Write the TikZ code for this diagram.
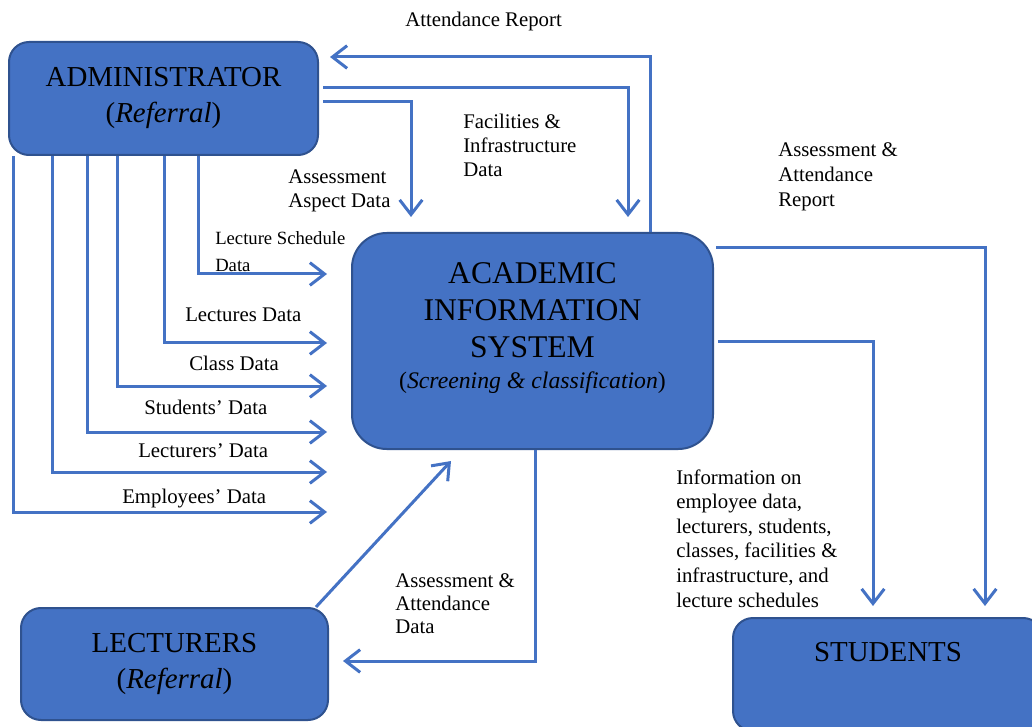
\documentclass[tikz,border=0pt]{standalone}
\usepackage{fontspec}
\setmainfont{Liberation Serif}
\usetikzlibrary{arrows.meta,calc}
\definecolor{boxfill}{HTML}{4472C4}
\definecolor{boxline}{HTML}{2F528F}
\definecolor{arrowblue}{HTML}{4472C4}
\begin{document}
\begin{tikzpicture}[x=0.75pt,y=-0.75pt,
  box/.style={draw=boxline, line width=1.5pt, fill=boxfill, rounded corners=15pt, inner sep=0pt, align=center, text=black},
  flow/.style={draw=arrowblue, line width=2.25pt, -{Straight Barb[length=11pt,width=17pt]}},
  lbl/.style={inner sep=0pt, anchor=base west, align=left, font=\fontsize{15.6pt}{18.4pt}\selectfont},
  title/.style={font=\fontsize{21.7pt}{27pt}\selectfont}]
\useasboundingbox (0,0) rectangle (1032,727);
\clip (0,0) rectangle (1032,727);

\node[box,title,minimum width=231.75pt,minimum height=84.75pt] (admin) at (163.5,98.5) {ADMINISTRATOR\\(\textit{Referral})};
\node[box,rounded corners=26pt,font=\fontsize{23.7pt}{27.75pt}\selectfont,minimum width=270.75pt,minimum height=162pt] (ais) at (532.5,341)
  {ACADEMIC\\INFORMATION\\SYSTEM\\[-4.5pt]{\fontsize{17.8pt}{27.75pt}\selectfont(\textit{Screening \& classification})}\\[-4.5pt]\mbox{}};
\node[box,title,minimum width=230.25pt,minimum height=84pt] (lect) at (174.5,664) {LECTURERS\\(\textit{Referral})};
\node[box,title,minimum width=232.5pt,minimum height=84.75pt] (stud) at (888,674.5) {STUDENTS\\[6.6pt]\mbox{}};

% top arrows
\draw[flow] (ais.north -| 650,0) |- ($(admin.east |- 0,57)+(11,0)$);
\draw[flow] ($(admin.east |- 0,88)+(4,0)$) -| ($(ais.north -| 628,0)+(0,-15)$);
\draw[flow] ($(admin.east |- 0,102)+(4,0)$) -| ($(ais.north -| 411,0)+(0,-15)$);
% left arrows
\foreach \xx/\yy in {198/274,164/343,117/386,87/432,52/472,13/512}
  \draw[flow] (admin.south -| \xx,0) |- ($(ais.west |- 0,\yy)+(-24,0)$);
% right arrows
\draw[flow] ($(ais.east |- 0,248)+(2,0)$) -| ($(stud.north -| 985,0)+(0,-11)$);
\draw[flow] ($(ais.east |- 0,342)+(4,0)$) -| ($(stud.north -| 873,0)+(0,-11)$);
% bottom arrows
\draw[flow] (ais.south -| 535,0) |- ($(lect.east |- 0,661)+(14,0)$);
\draw[flow] ($(lect.north east)+(-13,0)$) -- ($(ais.south west)+(100,11)$);

% labels (anchor at baseline of last line)
\node[lbl] (l1) at (405,27) {Attendance Report};
\node[lbl,font=\fontsize{15.6pt}{18pt}\selectfont] (l2) at (463,177) {Facilities \&\\Infrastructure\\Data};
\node[lbl,font=\fontsize{15.6pt}{18pt}\selectfont] (l3) at (288,208) {Assessment\\Aspect Data};
\node[lbl,font=\fontsize{14pt}{20.25pt}\selectfont] (l4) at (215,272) {Lecture Schedule\\Data};
\node[lbl] (l5) at (185,322) {Lectures Data};
\node[lbl] (l6) at (189,371) {Class Data};
\node[lbl] (l7) at (144,414) {Students’ Data};
\node[lbl] (l8) at (138,457) {Lecturers’ Data};
\node[lbl] (l9) at (122,503) {Employees’ Data};
\node[lbl,font=\fontsize{15.6pt}{18.75pt}\selectfont] (l10) at (778,207) {Assessment \&\\Attendance\\Report};
\node[lbl,font=\fontsize{15.6pt}{18.45pt}\selectfont] (l11) at (676,607) {Information on\\employee data,\\lecturers, students,\\classes, facilities \&\\infrastructure, and\\lecture schedules};
\node[lbl,font=\fontsize{15.6pt}{17.25pt}\selectfont] (l12) at (395,633) {Assessment \&\\Attendance\\Data};
\end{tikzpicture}
\end{document}
